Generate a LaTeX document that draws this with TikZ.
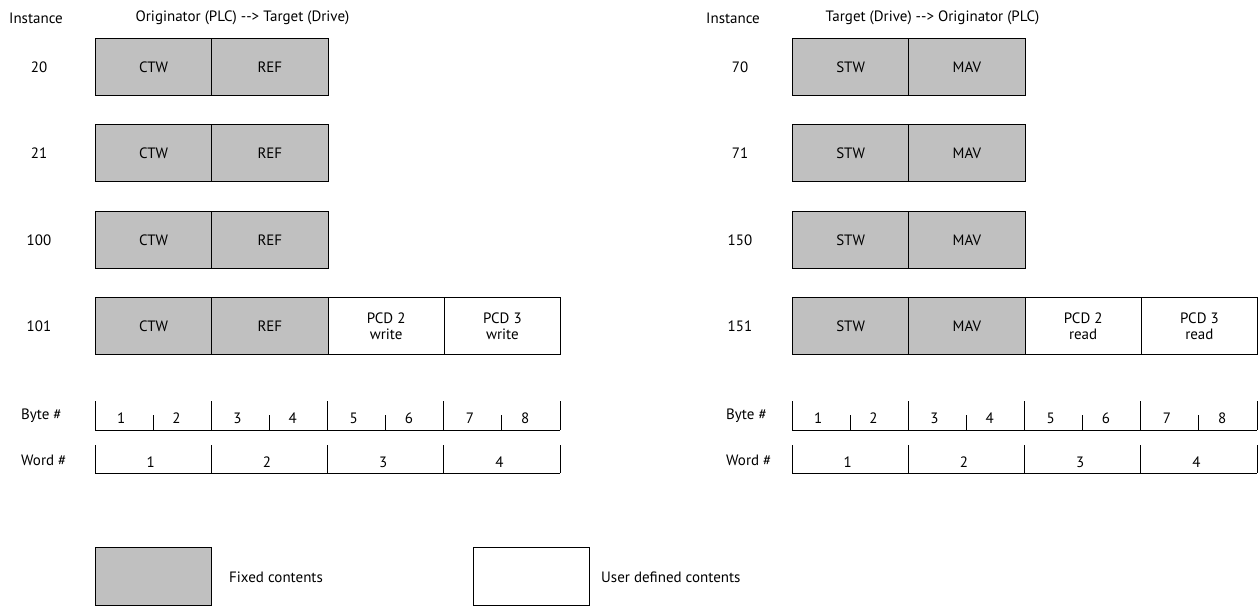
\documentclass[tikz,border=0pt]{standalone}
\usepackage{fontspec}
\setmainfont{PT Sans}
\definecolor{fixgray}{RGB}{192,192,192}
\begin{document}
\begin{tikzpicture}[x=1pt,y=-1pt,
  every node/.style={font=\fontsize{15}{16.5}\selectfont, inner sep=0pt},
  cell/.style={draw=black, line width=1pt, minimum width=116.25pt, minimum height=57pt, anchor=north west, align=center},
  fixed/.style={cell, fill=fixgray},
  user/.style={cell, fill=white},
  scale line/.style={line width=1pt}]
\useasboundingbox (0,0) rectangle (1258,605);
\def\w{116.25}
% headings
\node (instL) at (36,18) {Instance};
\node (titleL) at (242.5,18) {Originator (PLC) -{}-{}> Target (Drive)};
\node (instR) at (733,18) {Instance};
\node (titleR) at (932.5,18) {Target (Drive) -{}-{}> Originator (PLC)};
% left rows
\foreach \y/\n [count=\i] in {38/20,124/21,211/100} {
  \node (nL\i) at (39,\y+29) {\n};
  \node[fixed] (ctw\i) at (95,\y) {CTW};
  \node[fixed] (ref\i) at (95+\w,\y) {REF};
}
\node (nL4) at (39,326) {101};
\node[fixed] (ctw4) at (95,297) {CTW};
\node[fixed] (ref4) at (95+\w,297) {REF};
\node[user] (pcdw2) at (95+2*\w,297) {PCD 2\\write};
\node[user] (pcdw3) at (95+3*\w,297) {PCD 3\\write};
% right rows
\foreach \y/\n [count=\i] in {38/70,124/71,211/150} {
  \node (nR\i) at (740,\y+29) {\n};
  \node[fixed] (stw\i) at (792,\y) {STW};
  \node[fixed] (mav\i) at (792+\w,\y) {MAV};
}
\node (nR4) at (740,326) {151};
\node[fixed] (stw4) at (792,297) {STW};
\node[fixed] (mav4) at (792+\w,297) {MAV};
\node[user] (pcdr2) at (792+2*\w,297) {PCD 2\\read};
\node[user] (pcdr3) at (792+3*\w,297) {PCD 3\\read};
% byte and word scales
\foreach \x/\s/\lx in {95/L/21,792/R/726} {
  \node[anchor=west] (byte\s) at (\lx,416) {Byte \#};
  \node[anchor=west] (word\s) at (\lx,460) {Word \#};
  \draw[scale line] (\x,430) -- (\x+4*\w,430);
  \draw[scale line] (\x,473) -- (\x+4*\w,473);
  \foreach \k in {0,...,4} {
    \draw[scale line] (\x+\k*\w,401) -- (\x+\k*\w,430);
    \draw[scale line] (\x+\k*\w,445) -- (\x+\k*\w,473);
  }
  \foreach \k in {0,...,3} {
    \draw[scale line] (\x+\k*\w+0.5*\w,415) -- (\x+\k*\w+0.5*\w,430);
    \pgfmathtruncatemacro{\ba}{2*\k+1}
    \pgfmathtruncatemacro{\bb}{2*\k+2}
    \pgfmathtruncatemacro{\wn}{\k+1}
    \node at (\x+\k*\w+0.225*\w,418) {\ba};
    \node at (\x+\k*\w+0.70*\w,418) {\bb};
    \node at (\x+\k*\w+0.48*\w,462) {\wn};
  }
}
% legend
\node[fixed, minimum height=58pt] (legfix) at (95,547) {};
\node[anchor=west] (legfixt) at (229,577) {Fixed contents};
\node[user, minimum height=58pt] (leguser) at (472.5,547) {};
\node[anchor=west] (legusert) at (601,577) {User defined contents};
\end{tikzpicture}
\end{document}
